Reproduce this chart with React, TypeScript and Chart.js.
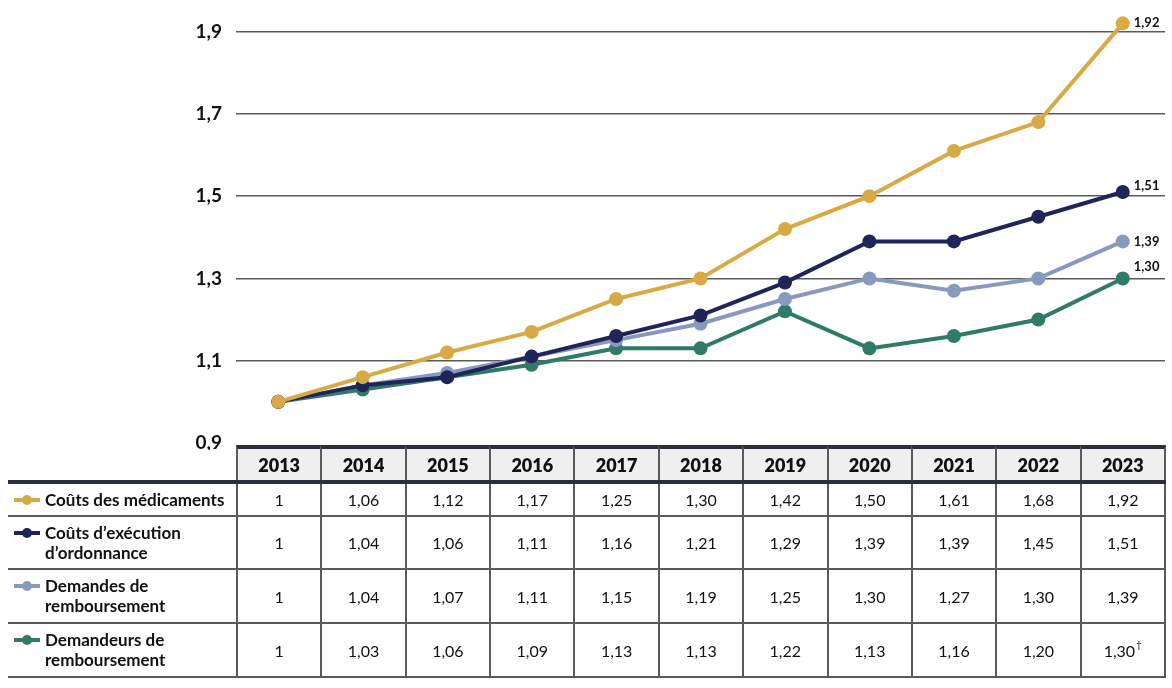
import React, { useEffect, useRef } from "react";
import { Chart, registerables } from "chart.js";

Chart.register(...registerables);

const YEARS = ["2013", "2014", "2015", "2016", "2017", "2018", "2019", "2020", "2021", "2022", "2023"];
const DRUG_COSTS = [1, 1.06, 1.12, 1.17, 1.25, 1.3, 1.42, 1.5, 1.61, 1.68, 1.92];
const DISPENSING_COSTS = [1, 1.04, 1.06, 1.11, 1.16, 1.21, 1.29, 1.39, 1.39, 1.45, 1.51];
const CLAIMS = [1, 1.04, 1.07, 1.11, 1.15, 1.19, 1.25, 1.3, 1.27, 1.3, 1.39];
const CLAIMANTS = [1, 1.03, 1.06, 1.09, 1.13, 1.13, 1.22, 1.13, 1.16, 1.2, 1.3];
const SERIES_LABELS = [
  "Coûts des médicaments",
  "Coûts d’exécution\nd’ordonnance",
  "Demandes de\nremboursement",
  "Demandeurs de\nremboursement",
];
const SERIES_COLORS = ["#D7AA45", "#1F2558", "#8999BD", "#2F7B67"];
const LAST_VALUE_NOTES = ["", "", "", "†"];
const Y_TICKS = [0.9, 1.1, 1.3, 1.5, 1.7, 1.9];
const Y_MIN = 0.9;
const Y_MAX = 1.95;

const SERIES = [DRUG_COSTS, DISPENSING_COSTS, CLAIMS, CLAIMANTS];

const fmt = (v: number) => (v === 1 ? "1" : v.toFixed(2).replace(".", ","));
const END_LABEL_DY = [-1, -6, 0, -12];

const endLabels = {
  id: "endLabels",
  afterDatasetsDraw(chart: any) {
    const ctx = chart.ctx;
    ctx.save();
    ctx.font = "bold 13px Lato";
    ctx.fillStyle = "#111";
    ctx.textAlign = "left";
    ctx.textBaseline = "middle";
    chart.data.datasets.forEach((ds: any, i: number) => {
      const meta = chart.getDatasetMeta(i);
      const pt = meta.data[meta.data.length - 1];
      const v = ds.data[ds.data.length - 1];
      ctx.fillText(fmt(v), pt.x + 11, pt.y + END_LABEL_DY[i]);
    });
    ctx.restore();
  },
};

const GRID_LINE = "#5a5a5a";
const DARK = "#2B2F3B";

function Marker({ color }: { color: string }) {
  return (
    <div style={{ position: "relative", width: 26, height: 20, flex: "0 0 26px" }}>
      <div style={{ position: "absolute", left: 0, right: 0, top: 8, height: 4, background: color }} />
      <div
        style={{
          position: "absolute",
          left: 8,
          top: 5,
          width: 10,
          height: 10,
          borderRadius: "50%",
          background: color,
        }}
      />
    </div>
  );
}

export default function App() {
  const canvasRef = useRef<HTMLCanvasElement | null>(null);

  useEffect(() => {
    if (!canvasRef.current) return;
    Chart.defaults.font.family = "Lato";
    const chart = new Chart(canvasRef.current, {
      type: "line",
      data: {
        labels: YEARS,
        datasets: SERIES.map((data, i) => ({
          label: SERIES_LABELS[i],
          data,
          borderColor: SERIES_COLORS[i],
          backgroundColor: SERIES_COLORS[i],
          pointBackgroundColor: SERIES_COLORS[i],
          pointBorderWidth: 0,
          pointRadius: 7,
          borderWidth: 4,
          tension: 0,
          clip: false as any,
        })),
      },
      options: {
        animation: false,
        responsive: false,
        maintainAspectRatio: false,
        layout: { padding: { top: 11, right: 6, bottom: 4, left: 0 } },
        plugins: { legend: { display: false }, tooltip: { enabled: false } },
        scales: {
          x: { type: "category", display: false, offset: true },
          y: {
            min: Y_MIN,
            max: Y_MAX,
            afterBuildTicks: (scale: any) => {
              scale.ticks = Y_TICKS.map((v) => ({ value: v }));
            },
            afterFit: (scale: any) => {
              scale.width = 236;
              scale.paddingTop = 0;
              scale.paddingBottom = 0;
            },
            border: { display: false },
            grid: {
              drawTicks: false,
              lineWidth: 1.5,
              color: (c: any) => (c.tick && Math.abs(c.tick.value - Y_MIN) < 1e-6 ? "rgba(0,0,0,0)" : GRID_LINE),
            },
            ticks: {
              padding: 14,
              color: "#111",
              font: { family: "Lato", size: 19, weight: "bold" },
              callback: (v: any) => Number(v).toFixed(1).replace(".", ","),
            },
          },
        },
      },
      plugins: [endLabels],
    });
    return () => chart.destroy();
  }, []);

  const rowHeights = [33, 53, 54, 54];

  return (
    <div
      style={{
        position: "absolute",
        left: 0,
        top: 0,
        width: 1172,
        height: 688,
        background: "#fff",
        fontFamily: "Lato, sans-serif",
        color: "#111",
      }}
    >
      <canvas ref={canvasRef} width={1172} height={450} style={{ position: "absolute", left: 0, top: 0, width: 1172, height: 450 }} />
      <div style={{ position: "absolute", left: 8, top: 445, width: 1158 }}>
        <div style={{ display: "flex", height: 35 }}>
          <div style={{ flex: "0 0 228px" }} />
          {YEARS.map((y, j) => (
            <div
              key={y}
              style={{
                flex: "1 1 0",
                boxSizing: "border-box",
                borderTop: `4px solid ${DARK}`,
                borderLeft: `2px solid ${GRID_LINE}`,
                borderRight: j === YEARS.length - 1 ? `2px solid ${GRID_LINE}` : undefined,
                background: "#EFEFEF",
                display: "flex",
                alignItems: "center",
                justifyContent: "center",
                fontWeight: 800,
                fontSize: 18,
              }}
            >
              {y}
            </div>
          ))}
        </div>
        <div style={{ height: 4, background: DARK }} />
        {SERIES.map((data, i) => (
          <div
            key={i}
            style={{
              display: "flex",
              height: rowHeights[i],
              boxSizing: "border-box",
              borderBottom: `2px solid ${GRID_LINE}`,
            }}
          >
            <div
              style={{
                flex: "0 0 228px",
                display: "flex",
                alignItems: "center",
                paddingLeft: 6,
                boxSizing: "border-box",
              }}
            >
              <div style={{ display: "flex", alignItems: "flex-start" }}>
                <Marker color={SERIES_COLORS[i]} />
                <div
                  style={{
                    marginLeft: 5,
                    whiteSpace: "pre-line",
                    fontWeight: 700,
                    fontSize: 17,
                    lineHeight: "20px",
                  }}
                >
                  {SERIES_LABELS[i]}
                </div>
              </div>
            </div>
            {data.map((v, j) => (
              <div
                key={j}
                style={{
                  flex: "1 1 0",
                  boxSizing: "border-box",
                  borderLeft: `2px solid ${GRID_LINE}`,
                  borderRight: j === data.length - 1 ? `2px solid ${GRID_LINE}` : undefined,
                  display: "flex",
                  alignItems: "center",
                  justifyContent: "center",
                  fontSize: 16,
                }}
              >
                {fmt(v)}
                {j === data.length - 1 && LAST_VALUE_NOTES[i] ? (
                  <sup style={{ fontSize: 10, marginLeft: 1, alignSelf: "flex-start", marginTop: 15, lineHeight: 1 }}>
                    {LAST_VALUE_NOTES[i]}
                  </sup>
                ) : null}
              </div>
            ))}
          </div>
        ))}
      </div>
    </div>
  );
}
